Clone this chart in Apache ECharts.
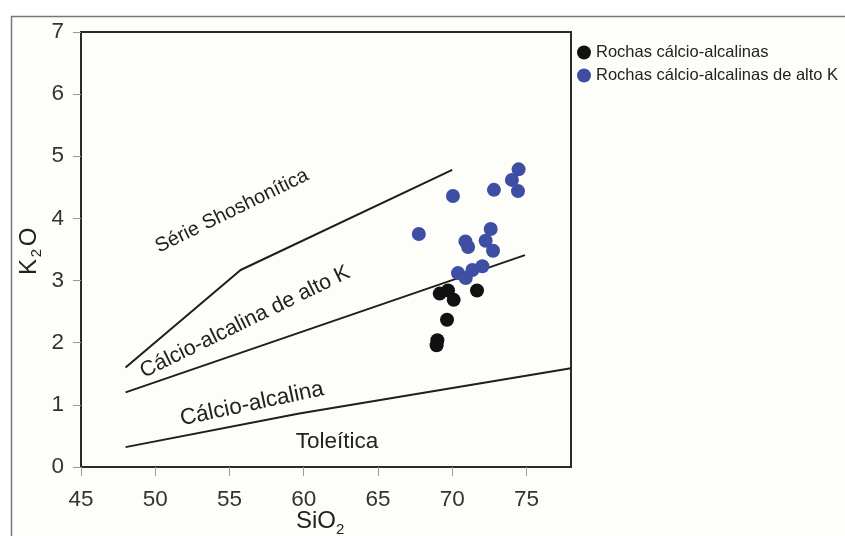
<!DOCTYPE html>
<html>
<head>
<meta charset="utf-8">
<script src="https://cdn.jsdelivr.net/npm/echarts@6/dist/echarts.min.js"></script>
<style>html,body{margin:0;padding:0;background:#fff;}#c{width:845px;height:536px;}</style>
</head>
<body>
<div id="c"></div>
<script>
// ---- data ----
var xTicks = [45, 50, 55, 60, 65, 70, 75];
var yTicks = [0, 1, 2, 3, 4, 5, 6, 7];
var blackName = 'Rochas cálcio-alcalinas';
var blueName = 'Rochas cálcio-alcalinas de alto K';
var blackSi = [69.16, 69.72, 70.1, 71.67, 69.65, 69.0, 68.95];
var blackK  = [2.79, 2.84, 2.69, 2.84, 2.37, 2.04, 1.96];
var blueSi = [70.05, 72.81, 74.47, 74.02, 74.43, 67.75, 72.59, 72.25, 72.75, 70.89, 71.07, 70.39, 70.91, 71.36, 72.03];
var blueK  = [4.36, 4.46, 4.79, 4.62, 4.44, 3.75, 3.83, 3.64, 3.48, 3.63, 3.54, 3.12, 3.04, 3.17, 3.23];
var shoshSi = [48, 55.75, 70];
var shoshK  = [1.6, 3.17, 4.78];
var highKSi = [48, 74.9];
var highKK  = [1.2, 3.41];
var calcSi = [48, 59.7, 78];
var calcK  = [0.32, 0.86, 1.59];
var regionLabels = ['Série Shoshonítica', 'Cálcio-alcalina de alto K', 'Cálcio-alcalina', 'Toleítica'];

function pairs(a, b) { return a.map(function (v, i) { return [v, b[i]]; }); }

var FONT = '"Liberation Sans", Arial, Helvetica, sans-serif';
var chart = echarts.init(document.getElementById('c'), null, {renderer: 'canvas'});

function lineSeries(xs, ys) {
  return {
    type: 'line', data: pairs(xs, ys), symbol: 'none', silent: true,
    lineStyle: {color: '#1e1e1e', width: 2}, z: 3
  };
}
function deg(d) { return d * Math.PI / 180; }
function label(text, x, y, rotDeg, size) {
  return {
    type: 'text', x: x, y: y, rotation: deg(rotDeg), z: 10,
    style: {text: text, font: size + 'px ' + FONT, fill: '#222', align: 'center', verticalAlign: 'middle'}
  };
}
function txt(t, x, y, size, rot, align) {
  return {type: 'text', x: x, y: y, rotation: deg(rot || 0), z: 10,
    style: {text: t, font: size + 'px ' + FONT, fill: '#222', align: align || 'center', verticalAlign: 'middle'}};
}

var option = {
  backgroundColor: '#ffffff',
  animation: false,
  grid: {left: 81, top: 32, width: 490, height: 435, show: true, borderColor: '#2a2a2a', borderWidth: 2, backgroundColor: 'transparent'},
  legend: {
    orient: 'vertical', left: 572, top: 39, itemWidth: 14, itemHeight: 14, itemGap: 6,
    icon: 'circle',
    data: [blackName, blueName],
    textStyle: {fontFamily: FONT, fontSize: 16.5, color: '#222'}
  },
  xAxis: {
    type: 'value', min: 45, max: 78, interval: 5,
    axisLine: {show: true, lineStyle: {color: '#2a2a2a', width: 2}},
    axisTick: {show: true, customValues: xTicks, length: 9, lineStyle: {color: '#999', width: 1}},
    axisLabel: {customValues: xTicks, margin: 21, fontFamily: FONT, fontSize: 22.5, color: '#333'},
    splitLine: {show: false}
  },
  yAxis: {
    type: 'value', min: 0, max: 7, interval: 1,
    axisLine: {show: true, lineStyle: {color: '#2a2a2a', width: 2}},
    axisTick: {show: true, length: 8, lineStyle: {color: '#999', width: 1}},
    axisLabel: {margin: 17, fontFamily: FONT, fontSize: 22.5, color: '#333'},
    splitLine: {show: false}
  },
  series: [
    lineSeries(shoshSi, shoshK),
    lineSeries(highKSi, highKK),
    lineSeries(calcSi, calcK),
    {name: blackName, type: 'scatter', data: pairs(blackSi, blackK), symbolSize: 14, itemStyle: {color: '#111111', opacity: 1}, z: 5},
    {name: blueName, type: 'scatter', data: pairs(blueSi, blueK), symbolSize: 14, itemStyle: {color: '#3e4fa3', opacity: 1}, z: 5}
  ],
  graphic: [
    {type: 'rect', z: -10, shape: {x: 11, y: 16, width: 834, height: 520}, style: {fill: '#fdfdf9'}},
    {type: 'polyline', z: 1, shape: {points: [[11.5, 536], [11.5, 16.5], [845, 16.5]]}, style: {stroke: '#777', lineWidth: 1.5, fill: null}},
    label(regionLabels[0], 232, 211, 26, 20),
    label(regionLabels[1], 245, 322, 26, 21.5),
    label(regionLabels[2], 252, 404, 12, 22.5),
    label(regionLabels[3], 337, 442, 0, 22.5),
    txt('K', 29, 267, 24, 90),
    txt('2', 37, 253, 15, 90),
    txt('O', 29, 237, 24, 90),
    txt('SiO', 296, 521, 24, 0, 'left'),
    txt('2', 336, 530, 15, 0, 'left')
  ]
};
chart.setOption(option);
</script>
</body>
</html>
